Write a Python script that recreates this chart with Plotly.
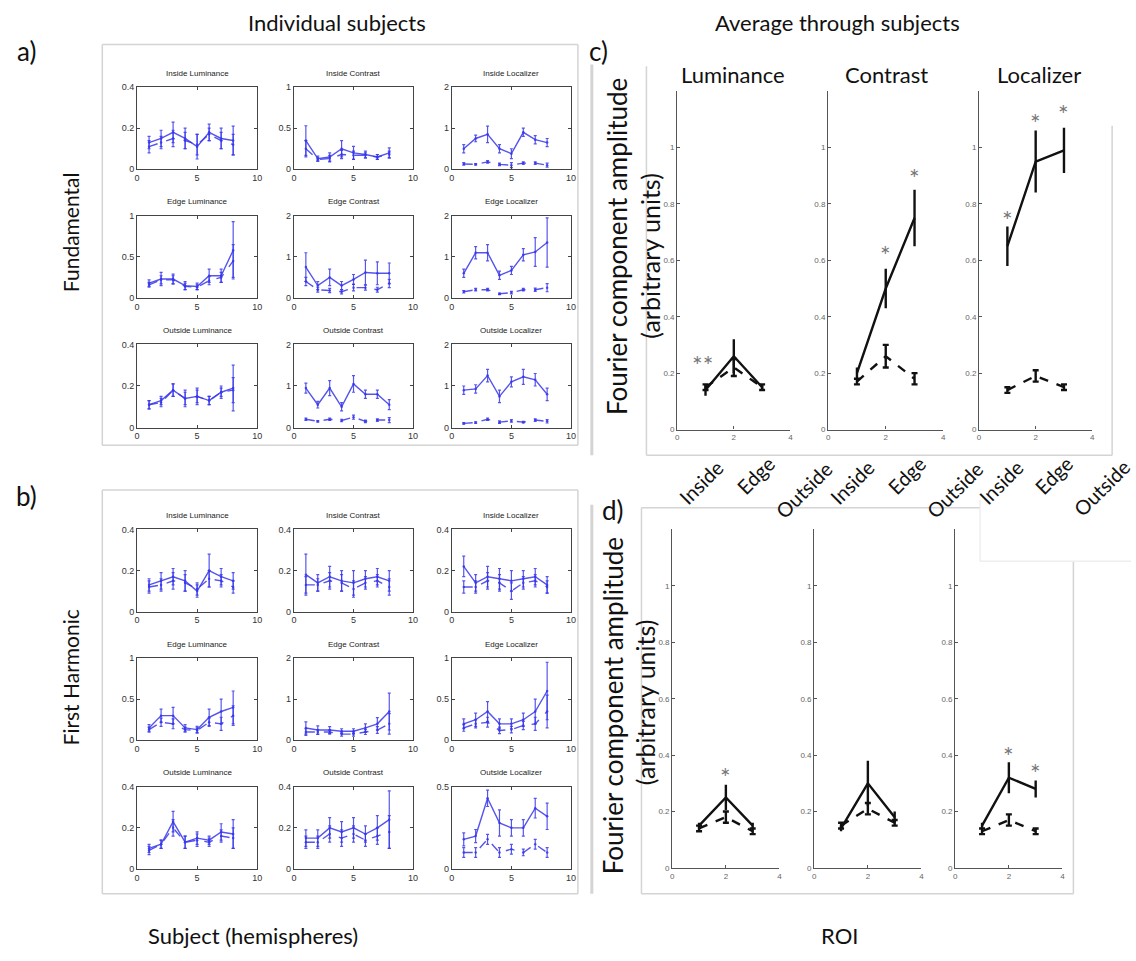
import plotly.graph_objects as go

W, H = 1136, 961

# ---------------- data ----------------
subjects = [1, 2, 3, 4, 5, 6, 7, 8]
roi_x = [1, 2, 3]
roi_labels = ["Inside", "Edge", "Outside"]
stim_labels = ["Luminance", "Contrast", "Localizer"]
panel_titles = [
    "Inside Luminance", "Inside Contrast", "Inside Localizer",
    "Edge Luminance", "Edge Contrast", "Edge Localizer",
    "Outside Luminance", "Outside Contrast", "Outside Localizer",
]
fund_ymax = [0.4, 1, 2, 1, 2, 2, 0.4, 2, 2]
harm_ymax = [0.4, 0.4, 0.4, 1, 2, 1, 0.4, 0.4, 0.5]

# fundamental, individual subjects
fund_solid = [
    [0.13, 0.15, 0.18, 0.15, 0.11, 0.18, 0.15, 0.14],
    [0.35, 0.13, 0.15, 0.25, 0.20, 0.18, 0.15, 0.20],
    [0.50, 0.75, 0.85, 0.50, 0.38, 0.90, 0.72, 0.65],
    [0.18, 0.23, 0.23, 0.15, 0.14, 0.27, 0.27, 0.58],
    [0.75, 0.30, 0.50, 0.30, 0.45, 0.62, 0.60, 0.60],
    [0.60, 1.10, 1.10, 0.55, 0.67, 1.05, 1.12, 1.35],
    [0.11, 0.13, 0.18, 0.14, 0.15, 0.13, 0.17, 0.19],
    [0.95, 0.55, 0.95, 0.50, 1.05, 0.80, 0.80, 0.55],
    [0.90, 0.93, 1.25, 0.75, 1.10, 1.22, 1.15, 0.80],
]
fund_solid_err = [
    [0.03, 0.04, 0.05, 0.05, 0.06, 0.04, 0.05, 0.07],
    [0.18, 0.03, 0.05, 0.10, 0.08, 0.04, 0.03, 0.06],
    [0.10, 0.08, 0.20, 0.10, 0.12, 0.10, 0.10, 0.10],
    [0.04, 0.08, 0.06, 0.05, 0.04, 0.08, 0.08, 0.35],
    [0.35, 0.10, 0.20, 0.10, 0.12, 0.30, 0.28, 0.25],
    [0.10, 0.15, 0.20, 0.10, 0.10, 0.15, 0.35, 0.60],
    [0.02, 0.02, 0.03, 0.04, 0.04, 0.02, 0.03, 0.11],
    [0.12, 0.08, 0.18, 0.10, 0.20, 0.10, 0.10, 0.12],
    [0.10, 0.10, 0.15, 0.15, 0.12, 0.18, 0.15, 0.15],
]
fund_dashed = [
    [0.11, 0.13, 0.15, 0.14, 0.12, 0.17, 0.14, 0.12],
    [0.25, 0.12, 0.13, 0.18, 0.17, 0.17, 0.15, 0.18],
    [0.13, 0.12, 0.18, 0.12, 0.10, 0.15, 0.15, 0.10],
    [0.16, 0.22, 0.22, 0.14, 0.13, 0.21, 0.25, 0.45],
    [0.40, 0.20, 0.18, 0.15, 0.25, 0.25, 0.20, 0.35],
    [0.15, 0.20, 0.20, 0.10, 0.13, 0.20, 0.20, 0.25],
    [0.11, 0.12, 0.18, 0.14, 0.15, 0.13, 0.17, 0.18],
    [0.20, 0.15, 0.20, 0.17, 0.25, 0.15, 0.18, 0.18],
    [0.10, 0.12, 0.20, 0.13, 0.16, 0.13, 0.18, 0.15],
]
fund_dashed_err = [
    [0.03, 0.03, 0.04, 0.04, 0.05, 0.03, 0.04, 0.05],
    [0.10, 0.02, 0.04, 0.05, 0.05, 0.03, 0.03, 0.04],
    [0.03, 0.02, 0.03, 0.03, 0.06, 0.03, 0.03, 0.05],
    [0.03, 0.05, 0.05, 0.04, 0.03, 0.05, 0.06, 0.20],
    [0.10, 0.06, 0.05, 0.05, 0.08, 0.06, 0.06, 0.10],
    [0.03, 0.03, 0.03, 0.02, 0.03, 0.03, 0.04, 0.10],
    [0.02, 0.02, 0.03, 0.03, 0.03, 0.02, 0.02, 0.06],
    [0.03, 0.02, 0.03, 0.03, 0.05, 0.03, 0.03, 0.06],
    [0.02, 0.02, 0.03, 0.03, 0.03, 0.02, 0.03, 0.04],
]

# first harmonic, individual subjects
harm_solid = [
    [0.13, 0.15, 0.17, 0.15, 0.10, 0.20, 0.17, 0.15],
    [0.18, 0.14, 0.17, 0.15, 0.14, 0.16, 0.17, 0.15],
    [0.22, 0.14, 0.17, 0.16, 0.15, 0.16, 0.17, 0.13],
    [0.15, 0.30, 0.30, 0.15, 0.13, 0.28, 0.35, 0.40],
    [0.30, 0.25, 0.25, 0.22, 0.22, 0.30, 0.40, 0.70],
    [0.20, 0.25, 0.35, 0.20, 0.20, 0.25, 0.35, 0.60],
    [0.10, 0.12, 0.23, 0.13, 0.15, 0.14, 0.18, 0.17],
    [0.15, 0.15, 0.20, 0.18, 0.20, 0.17, 0.20, 0.24],
    [0.18, 0.20, 0.43, 0.28, 0.25, 0.25, 0.37, 0.32],
]
harm_solid_err = [
    [0.03, 0.04, 0.04, 0.05, 0.03, 0.08, 0.04, 0.04],
    [0.10, 0.04, 0.05, 0.05, 0.06, 0.04, 0.04, 0.05],
    [0.05, 0.04, 0.05, 0.05, 0.05, 0.04, 0.04, 0.04],
    [0.04, 0.08, 0.10, 0.04, 0.04, 0.10, 0.15, 0.20],
    [0.15, 0.10, 0.08, 0.06, 0.06, 0.10, 0.15, 0.45],
    [0.06, 0.08, 0.12, 0.06, 0.06, 0.08, 0.15, 0.35],
    [0.02, 0.02, 0.05, 0.03, 0.03, 0.02, 0.04, 0.07],
    [0.04, 0.04, 0.05, 0.05, 0.05, 0.04, 0.06, 0.14],
    [0.04, 0.04, 0.05, 0.08, 0.05, 0.05, 0.06, 0.08],
]
harm_dashed = [
    [0.12, 0.13, 0.15, 0.14, 0.11, 0.16, 0.15, 0.12],
    [0.13, 0.13, 0.15, 0.14, 0.11, 0.14, 0.15, 0.12],
    [0.12, 0.12, 0.15, 0.14, 0.10, 0.14, 0.15, 0.12],
    [0.13, 0.22, 0.20, 0.13, 0.12, 0.22, 0.20, 0.30],
    [0.20, 0.20, 0.20, 0.15, 0.15, 0.20, 0.25, 0.40],
    [0.15, 0.20, 0.22, 0.12, 0.13, 0.18, 0.20, 0.35],
    [0.09, 0.12, 0.20, 0.13, 0.14, 0.13, 0.16, 0.15],
    [0.13, 0.13, 0.17, 0.15, 0.17, 0.14, 0.16, 0.18],
    [0.10, 0.10, 0.18, 0.10, 0.12, 0.10, 0.15, 0.10],
]
harm_dashed_err = [
    [0.03, 0.03, 0.04, 0.04, 0.03, 0.04, 0.03, 0.03],
    [0.04, 0.03, 0.04, 0.04, 0.04, 0.03, 0.03, 0.04],
    [0.03, 0.03, 0.04, 0.04, 0.04, 0.03, 0.03, 0.03],
    [0.03, 0.05, 0.06, 0.03, 0.03, 0.05, 0.08, 0.12],
    [0.08, 0.06, 0.05, 0.05, 0.05, 0.06, 0.08, 0.25],
    [0.04, 0.05, 0.06, 0.04, 0.04, 0.05, 0.08, 0.20],
    [0.02, 0.02, 0.04, 0.03, 0.03, 0.02, 0.03, 0.05],
    [0.03, 0.03, 0.04, 0.04, 0.04, 0.03, 0.04, 0.08],
    [0.03, 0.03, 0.03, 0.03, 0.03, 0.02, 0.03, 0.03],
]

# averages through subjects (Luminance, Contrast, Localizer) x (Inside, Edge, Outside)
avg_fund_solid = [[0.14, 0.26, 0.15], [0.20, 0.50, 0.75], [0.65, 0.95, 0.99]]
avg_fund_solid_err = [[0.02, 0.06, 0.01], [0.02, 0.07, 0.10], [0.07, 0.11, 0.08]]
avg_fund_dashed = [[0.15, 0.22, 0.15], [0.17, 0.26, 0.18], [0.14, 0.19, 0.15]]
avg_fund_dashed_err = [[0.01, 0.03, 0.01], [0.01, 0.04, 0.02], [0.01, 0.02, 0.01]]
avg_harm_solid = [[0.15, 0.25, 0.15], [0.14, 0.30, 0.18], [0.15, 0.32, 0.28]]
avg_harm_solid_err = [[0.01, 0.045, 0.01], [0.01, 0.08, 0.02], [0.01, 0.055, 0.03]]
avg_harm_dashed = [[0.14, 0.18, 0.13], [0.15, 0.21, 0.16], [0.13, 0.17, 0.13]]
avg_harm_dashed_err = [[0.01, 0.02, 0.01], [0.01, 0.02, 0.01], [0.01, 0.02, 0.01]]

# significance marks: (panel, x, y, text)
fund_stars = [(0, 0.9, 0.255, "**"), (1, 2, 0.645, "*"), (1, 3, 0.915, "*"),
              (2, 1, 0.766, "*"), (2, 2, 1.113, "*"), (2, 3, 1.143, "*")]
harm_stars = [(0, 2, 0.347, "*"), (2, 2, 0.42, "*"), (2, 3, 0.36, "*")]

# ---------------- layout helpers ----------------
def px(x):
    return x / W


def py(y):
    return 1 - y / H


BLUE = "rgba(55,55,235,0.85)"
SMALL_FONT = "Liberation Sans, Arial, sans-serif"
BIG_FONT = "Lato, Open Sans, sans-serif"

fig = go.Figure()
layout = {}
annotations = []
shapes = []
ax_id = [0]


def new_axes(x0, x1, ytop, ybot):
    ax_id[0] += 1
    k = ax_id[0]
    xs = "" if k == 1 else str(k)
    return k, xs, [px(x0), px(x1)], [py(ybot), py(ytop)]


cols_x = [(135, 256), (293, 413), (452, 572)]
rows_a = [(83, 166), (213, 296), (343, 427)]
rows_b = [(530, 613), (660, 743), (790, 873)]


def small_panels(rows, ymaxes, solid, solid_err, dashed, dashed_err):
    for i in range(9):
        r, c = divmod(i, 3)
        x0, x1 = cols_x[c]
        yt, yb = rows[r]
        k, xs, dx, dy = new_axes(x0, x1, yt, yb)
        ymax = ymaxes[i]
        for vals, errs, dash in ((solid[i], solid_err[i], "solid"),
                                 (dashed[i], dashed_err[i], "dash")):
            fig.add_trace(go.Scatter(
                x=subjects, y=vals, mode="lines+markers",
                xaxis="x" + xs, yaxis="y" + xs, showlegend=False,
                line=dict(color=BLUE, width=1.4, dash=dash),
                marker=dict(size=2.5, color=BLUE),
                error_y=dict(type="data", array=errs, color=BLUE,
                             thickness=1.2, width=1.5),
            ))
        if ymax == 0.4:
            yt_vals = [0, 0.2, 0.4]
        elif ymax == 0.5:
            yt_vals = [0, 0.5]
        elif ymax == 1:
            yt_vals = [0, 0.5, 1]
        else:
            yt_vals = [0, 1, 2]
        axis_common = dict(showline=True, linecolor="#444", linewidth=1,
                           mirror="ticks", ticks="inside", ticklen=3,
                           tickcolor="#444", showgrid=False, zeroline=False,
                           tickfont=dict(family=SMALL_FONT, size=9, color="#333"),
                           fixedrange=True)
        layout["xaxis" + xs] = dict(domain=dx, range=[0, 10], tickvals=[0, 5, 10],
                                    anchor="y" + xs, **axis_common)
        layout["yaxis" + xs] = dict(domain=dy, range=[0, ymax], tickvals=yt_vals,
                                    anchor="x" + xs, **axis_common)
        annotations.append(dict(
            x=px((x0 + x1) / 2), y=py(yt - 14), xref="paper", yref="paper",
            xanchor="center", yanchor="middle",
            text=panel_titles[i], showarrow=False,
            font=dict(family=SMALL_FONT, size=8, color="#222")))


small_panels(rows_a, fund_ymax, fund_solid, fund_solid_err, fund_dashed, fund_dashed_err)
small_panels(rows_b, harm_ymax, harm_solid, harm_solid_err, harm_dashed, harm_dashed_err)

c_x = [(679, 793), (831, 947), (983, 1097)]
c_y = (87, 429)
d_x = [(674, 782), (817, 925), (959, 1067)]
d_y = (530, 872)


def avg_panels(xs_list, ys, solid, solid_err, dashed, dashed_err, stars):
    keys = []
    for j in range(3):
        x0, x1 = xs_list[j]
        k, xs, dx, dy = new_axes(x0, x1, ys[0], ys[1])
        keys.append(xs)
        for vals, errs, dash, cap in ((dashed[j], dashed_err[j], "dash", 3),
                                      (solid[j], solid_err[j], "solid", 0)):
            fig.add_trace(go.Scatter(
                x=roi_x, y=vals, mode="lines",
                xaxis="x" + xs, yaxis="y" + xs, showlegend=False,
                line=dict(color="#111", width=2.4, dash=dash),
                error_y=dict(type="data", array=errs, color="#111",
                             thickness=2.4, width=cap),
            ))
        axis_common = dict(showline=True, linecolor="#555", linewidth=1.2,
                           ticks="inside", ticklen=3, tickcolor="#555",
                           showgrid=False, zeroline=False,
                           tickfont=dict(family=SMALL_FONT, size=8, color="#666"),
                           fixedrange=True)
        layout["xaxis" + xs] = dict(domain=dx, range=[0, 4], tickvals=[0, 2, 4],
                                    anchor="y" + xs, **axis_common)
        layout["yaxis" + xs] = dict(domain=dy, range=[0, 1.2],
                                    tickvals=[0, 0.2, 0.4, 0.6, 0.8, 1],
                                    ticktext=["0", "0.2", "0.4", "0.6", "0.8", "1"],
                                    anchor="x" + xs, **axis_common)
    for (j, sx, sy, txt) in stars:
        annotations.append(dict(
            x=sx, y=sy, xref="x" + keys[j], yref="y" + keys[j], text=txt,
            xanchor="center", yanchor="middle",
            showarrow=False, yshift=-7,
            font=dict(family=BIG_FONT, size=25, color="#777")))


avg_panels(c_x, c_y, avg_fund_solid, avg_fund_solid_err, avg_fund_dashed,
           avg_fund_dashed_err, fund_stars)
avg_panels(d_x, d_y, avg_harm_solid, avg_harm_solid_err, avg_harm_dashed,
           avg_harm_dashed_err, harm_stars)


def label(x, y, text, size, angle=0, color="#111"):
    annotations.append(dict(x=px(x), y=py(y), xref="paper", yref="paper",
                            xanchor="center", yanchor="middle",
                            text=text, showarrow=False, textangle=angle,
                            font=dict(family=BIG_FONT, size=size, color=color)))


label(336, 18, "Individual subjects", 22)
label(840, 18, "Average through subjects", 22)
label(24, 46, "a)", 26)
label(24, 496, "b)", 26)
label(600, 46, "c)", 26)
label(614, 510, "d)", 26)
label(68, 230, "Fundamental", 21, -90)
label(68, 680, "First Harmonic", 21, -90)
label(252, 940, "Subject (hemispheres)", 22)
label(842, 940, "ROI", 22)
for (cx, name) in zip((735, 890, 1043), stim_labels):
    label(cx, 70, name, 22)
label(619, 244, "Fourier component amplitude", 26, -90)
label(652, 253, "(arbitrary units)", 25, -90)
label(614, 708, "Fourier component amplitude", 26, -90)
label(646, 704, "(arbitrary units)", 25, -90)

# rotated ROI names under the fundamental average panels
roi_label_pos = [
    [(703, 482), (758, 475), (806, 490)],
    [(855, 482), (910, 475), (958, 490)],
    [(1005, 482), (1058, 475), (1106, 488)],
]
for row in roi_label_pos:
    for (lx, ly), name in zip(row, roi_labels):
        label(lx, ly, name, 20, -45)


def gline(x0, y0, x1, y1, color="#d4d4d4", width=1.5):
    shapes.append(dict(type="line", xref="paper", yref="paper",
                       x0=px(x0), y0=py(y0), x1=px(x1), y1=py(y1),
                       line=dict(color=color, width=width)))


# panel frames
for (t, b) in ((40, 445), (490, 898)):
    gline(100, t, 579, t)
    gline(100, b, 579, b)
    gline(100, t, 100, b)
    gline(579, t, 579, b)
gline(593, 60, 593, 455, width=3)
gline(593, 505, 593, 898, width=3)
gline(648, 62, 648, 455)
gline(648, 455, 1117, 455)
gline(1117, 122, 1117, 455)
gline(643, 508, 984, 508)
gline(643, 508, 643, 898)
gline(643, 898, 1078, 898)
gline(1078, 562, 1078, 898)
gline(984, 500, 984, 562, color="#eeeeee")
gline(984, 562, 1136, 562, color="#eeeeee")

fig.update_layout(
    width=W, height=H, margin=dict(l=0, r=0, t=0, b=0),
    paper_bgcolor="white", plot_bgcolor="white",
    annotations=annotations, shapes=shapes, **layout,
)

fig.write_html("out.html")
